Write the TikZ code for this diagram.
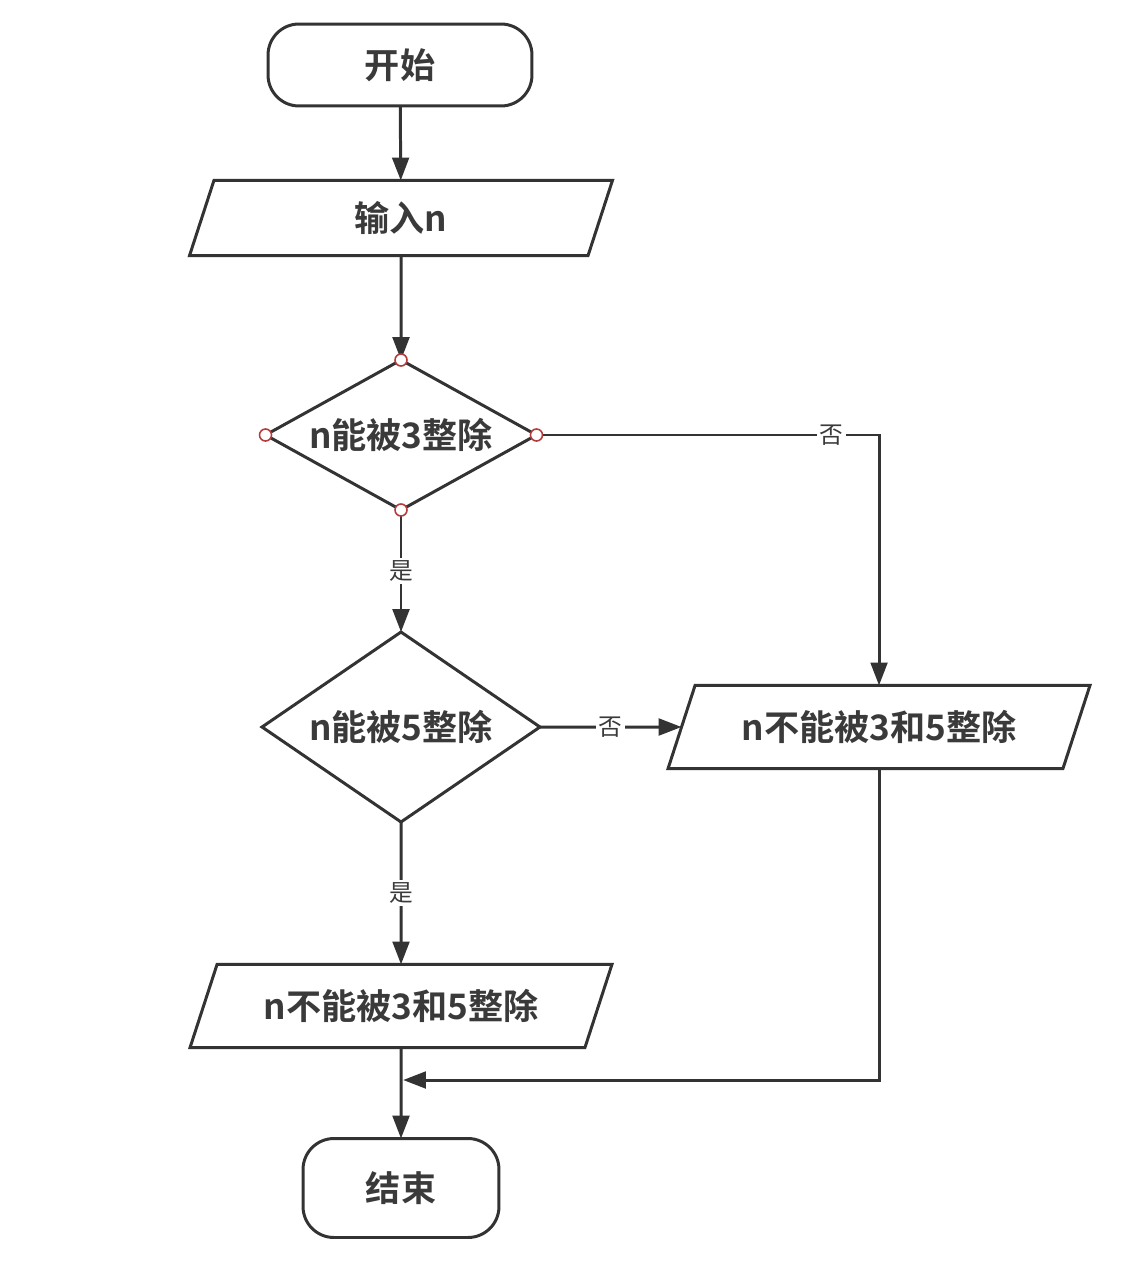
\documentclass[tikz,border=0pt]{standalone}
\usepackage{fontspec}
\usepackage{tikz}
\usetikzlibrary{shapes.geometric,arrows.meta}
\newfontfamily\cjk{Noto Sans CJK SC}[BoldFont={Noto Sans CJK SC Bold}]
\definecolor{lineclr}{RGB}{51,51,51}
\definecolor{txtclr}{RGB}{58,58,58}
\definecolor{portclr}{RGB}{180,60,60}

\tikzset{
	base/.style={draw=lineclr, line width=1.7pt, text=txtclr, inner sep=0pt, outer sep=0pt,
		font=\cjk\bfseries\fontsize{20}{24}\selectfont},
	termbox/.style={base, rectangle, rounded corners=0.62cm},
	iobox/.style={base, trapezium, trapezium stretches body=true,
		text height=17.6pt, text depth=2.4pt, inner ysep=#1,
		trapezium left angle=72, trapezium right angle=108},
	testbox/.style={base, diamond, aspect=2},
	arr/.style={draw=lineclr, line width=1.7pt, -{Triangle[length=13pt,width=9.5pt]}},
	conn/.style={draw=lineclr, line width=1.7pt},
	lbl/.style={fill=white, text=txtclr, inner sep=1.5pt, font=\cjk\fontsize{13.5}{15}\selectfont},
	port/.style={draw=portclr, fill=white, line width=0.9pt},
}

\begin{document}
\begin{tikzpicture}[x=0.02cm, y=-0.02cm]
	
	\useasboundingbox (0,0) rectangle (1142,1264);
	
	\node[termbox, minimum width=5.28cm, minimum height=1.64cm] (start) at (400,65) {开始};
	\node[iobox=0.40cm, minimum width=8.46cm] (input) at (401,218) {输入n};
	\node[testbox, minimum width=5.42cm, minimum height=3.0cm] (test3) at (401,435) {n能被3整除};
	\node[testbox, minimum width=5.56cm, minimum height=3.8cm] (test5) at (401,727) {n能被5整除};
	\node[iobox=0.48cm, minimum width=8.44cm] (outno) at (879,727) {n不能被3和5整除};
	\node[iobox=0.48cm, minimum width=8.44cm] (outyes) at (401,1006) {n不能被3和5整除};
	\node[termbox, minimum width=3.92cm, minimum height=1.98cm] (stop) at (401,1188) {结束};
	
	\coordinate (join) at (outyes.south |- 0,1080);
	
	\draw[arr] (start) -- (input);
	\draw[arr] (input) -- (test3);
	\draw[arr] (test3) -- node[lbl] {是} (test5);
	\draw[arr] (test3.east) -| node[lbl, pos=0.43] {否} (outno.north);
	\draw[arr] (test5.east) -- node[lbl, pos=0.5] {否} (outno);
	\draw[arr] (test5) -- node[lbl] {是} (outyes);
	\draw[arr] (outno.south) |- ([xshift=1.2pt]join);
	\draw[arr] (outyes) -- (stop);
	
	% connection points of the first test
	\foreach \a in {north,south,east,west}
		\draw[port] (test3.\a) circle (0.12cm);
	
\end{tikzpicture}
\end{document}
